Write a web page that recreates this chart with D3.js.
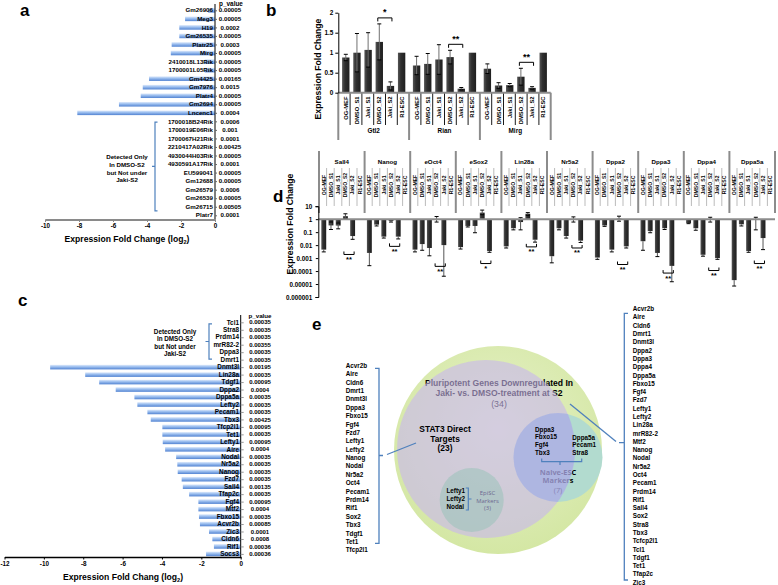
<!DOCTYPE html>
<html><head><meta charset="utf-8">
<script src="https://cdn.jsdelivr.net/npm/d3@7/dist/d3.min.js"></script>
<style>html,body{margin:0;padding:0;background:#fff;overflow:hidden}svg{display:block}</style>
</head><body>
<svg id="chart" width="778" height="585" viewBox="0 0 778 585"></svg>
<script>
// ================= DATA =================
// Panel a
const aGenes = ["Gm26906","Meg3","H19","Gm26535","Platr25","Mirg","2410018L13Rik","1700001L05Rik","Gm4425","Gm7976","Platr4","Gm2694","Lncenc1",
  "1700018B24Rik","1700019E06Rik","1700067H21Rik","2210417A02Rik","4930044H03Rik","4930591A17Rik","EU599041","Gm12688","Gm26579","Gm26539","Gm26715","Platr7"];
const aLog2FC = [-0.4,-1.76,-2.1,-2.1,-2.55,-2.6,-0.6,-0.6,-3.88,-4.25,-4.37,-5.65,-8.1,
  null,null,null,null,null,null,null,null,null,null,null,null];
const aPValues = ["0.00005","0.00005","0.0002","0.00005","0.0003","0.00005","0.00005","0.00005","0.00165","0.0015","0.00005","0.00005","0.0004",
  "0.0006","0.001","0.0001","0.00425","0.00005","0.0001","0.00005","0.00005","0.0006","0.00005","0.00505","0.0001"];
const aTicks = [-10,-8,-6,-4,-2,0];
const onlyNote = ["Detected Only","In DMSO-S2","but Not under","Jaki-S2"];

// Panel c
const cGenes = ["Tcl1","Stra8","Prdm14","mrR82-2","Dppa3","Dmrt1","Dnmt3l","Lin28a","Tdgf1","Dppa2","Dppa5a","Lefty2","Pecam1","Tbx3","Tfcp2l1","Tet1",
  "Lefty1","Aire","Nodal","Nr5a2","Nanog","Fzd7","Sall4","Tfap2c","Fgf4","Mtf2","Fbxo15","Acvr2b","Zic3","Cldn6","Rif1","Socs3"];
const cLog2FC = [null,null,null,null,null,null,-9.68,-7.9,-7.19,-6.35,-5.4,-5.25,-4.74,-4.57,-3.98,-3.98,
  -3.96,-3.84,-3.28,-3.22,-3.2,-3.0,-2.94,-2.62,-2.15,-2.15,-2.12,-2.07,-1.61,-1.44,-1.36,-1.76];
const cPValues = ["0.00035","0.00035","0.00035","0.00355","0.00035","0.00035","0.00195","0.00035","0.00095","0.0004","0.00035","0.00035","0.00035","0.00425","0.00095","0.00035",
  "0.00095","0.0004","0.00035","0.00035","0.00035","0.00035","0.00135","0.00035","0.00095","0.0004","0.00035","0.00085","0.0001","0.0008","0.00036","0.00036"];
const cTicks = [-12,-10,-8,-6,-4,-2,0];

// Panel b
const bGenes = ["Gtl2","Rian","Mirg"];
const conditions = ["OG-MEF","DMSO_S1","Jaki_S1","DMSO_S2","Jaki_S2","R1-ESC"];
const bMean = [[0.88,1.0,1.07,1.27,0.17,1.0],[0.68,0.72,0.83,0.89,0.1,1.0],[0.6,0.18,0.19,0.4,0.12,1.0]];
const bErr  = [[0.08,0.48,0.43,0.45,0.1,0],[0.23,0.26,0.37,0.17,0.03,0],[0.12,0.07,0.04,0.21,0.03,0]];
const bSig = ["*","**","**"];
const bTicks = [0,0.5,1,1.5,2];

// Panel d
const dGenes = ["Sall4","Nanog","eOct4","eSox2","Lin28a","Nr5a2","Dppa2","Dppa3","Dppa4","Dppa5a"];
const dMean = [
  [0.0045,0.33,0.32,1.7,0.05,1],
  [0.0025,0.38,0.045,0.75,0.045,1],
  [0.0045,0.012,0.006,1.0,0.01,1],
  [0.007,0.3,0.3,3.2,0.0035,1],
  [0.008,0.2,0.6,2.6,0.026,1],
  [0.0014,0.2,0.05,0.95,0.022,1],
  [0.0011,0.33,0.0045,1.1,0.008,1],
  [0.02,0.12,0.0025,0.2,0.00025,1],
  [0.5,0.2,0.0018,0.9,0.001,1],
  [0.00002,0.4,0.0035,0.9,0.035,1]];
const dErrLow = [
  [0.003,0.16,0.18,1.1,0.028,null],
  [0.00026,0.3,0.035,0.6,0.03,null],
  [0.003,0.004,0.0015,0.6,0.00004,null],
  [0.005,0.25,0.09,2.2,0.0028,null],
  [0.006,0.15,0.15,2.0,0.017,null],
  [0.00043,0.15,0.035,0.6,0.016,null],
  [0.0008,0.28,0.003,0.7,0.006,null],
  [0.004,0.09,0.0013,0.16,0.000015,null],
  [0.45,0.14,0.0014,0.6,0.0008,null],
  [0.000007,0.3,0.0028,0.15,0.0045,null]];
const dErrHigh = [
  [null,0.6,0.5,2.6,null,null],
  [null,null,null,0.9,null,null],
  [null,null,null,1.6,null,null],
  [null,null,null,5,null,null],
  [null,null,1.3,3.2,null,null],
  [null,null,null,1.5,null,null],
  [null,null,null,1.7,null,null],
  [null,null,null,null,null,null],
  [null,null,null,1.4,null,null],
  [null,null,null,1.4,null,null]];
const dSig = ["**","**","**","*","**","**","**","**","**","**"];
const dSigLevel = [0.0019,0.008,0.00023,0.00038,0.0073,0.006,0.00032,0.00007,0.00011,0.00038];
const dTicks = [10,1,0.1,0.01,0.001,0.0001,0.00001,0.000001];
const dTickLabels = ["10","1","0.1","0.01","0.001","0.0001","0.00001","0.000001"];

// Panel e
const eAllGenes = ["Acvr2b","Aire","Cldn6","Dmrt1","Dnmt3l","Dppa2","Dppa3","Dppa4","Dppa5a","Fbxo15","Fgf4","Fzd7","Lefty1","Lefty2","Lin28a","mrR82-2","Mtf2",
  "Nanog","Nodal","Nr5a2","Oct4","Pecam1","Prdm14","Rif1","Sall4","Sox2","Stra8","Tbx3","Tcfcp2l1","Tcl1","Tdgf1","Tet1","Tfap2c","Zic3"];
const eStat3Targets = ["Acvr2b","Aire","Cldn6","Dmrt1","Dnmt3l","Dppa3","Fbxo15","Fgf4","Fzd7","Lefty1","Lefty2","Nanog","Nodal","Nr5a2","Oct4","Pecam1",
  "Prdm14","Rif1","Sox2","Tbx3","Tdgf1","Tet1","Tfcp2l1"];
const eNaiveStat3 = ["Dppa3","Fbxo15","Fgf4","Tbx3"];
const eNaiveOther = ["Dppa5a","Pecam1","Stra8"];
const eEpiSC = ["Lefty1","Lefty2","Nodal"];

// ================= DRAW =================
const svg = d3.select("#chart");
const SANS = "'Liberation Sans', Arial, Helvetica, sans-serif";
const CAL = "'Open Sans', 'Noto Sans', sans-serif";
const BLUE = "#4f81bd";
const defs = svg.append("defs");
function grad(id, horiz, stops){
  const g = defs.append("linearGradient").attr("id",id).attr("x1",0).attr("y1",0).attr("x2",horiz?1:0).attr("y2",horiz?0:1);
  stops.forEach(s=>g.append("stop").attr("offset",s[0]).attr("stop-color",s[1]));
}
grad("blueBar", false, [["0%","#dfeafb"],["40%","#9fc1f0"],["100%","#5283d2"]]);
grad("darkBar", true, [["0%","#555"],["40%","#2f2f2f"],["100%","#1f1f1f"]]);

function T(parent,x,y,str,size,opt={}){
  const t = parent.append("text").attr("x",x).attr("y",y)
    .attr("font-family",opt.family||SANS).attr("font-weight",opt.weight||"bold")
    .attr("font-size",size).attr("fill",opt.fill||"#000").attr("text-anchor",opt.anchor||"start");
  if(opt.dy) t.attr("dy",opt.dy);
  if(opt.transform) t.attr("transform",opt.transform);
  if(opt.len) t.attr("textLength",opt.len).attr("lengthAdjust","spacingAndGlyphs");
  t.text(str);
  return t;
}
function styleAxis(g,size){
  g.selectAll("text").attr("font-family",SANS).attr("font-weight","bold").attr("font-size",size).attr("fill","#000");
}

// panel labels
[["a",20,16],["b",266,16],["c",18,306],["d",273,202],["e",312,330]].forEach(p=>T(svg,p[1],p[2],p[0],17));

// ---------- Panel a ----------
(function(){
  const g = svg.append("g");
  const x = d3.scaleLinear().domain([-10,0]).range([45,215]);
  const y = d3.scalePoint().domain(aGenes).range([10.3,215.3]);
  const rows = aGenes.map((n,i)=>({n,v:aLog2FC[i],p:aPValues[i]}));
  g.selectAll("rect").data(rows.filter(d=>d.v!=null)).join("rect")
    .attr("x",d=>x(d.v)).attr("y",d=>y(d.n)-2.3).attr("width",d=>x(0)-x(d.v)).attr("height",4.6)
    .attr("fill","url(#blueBar)");
  rows.forEach(d=>{
    T(g,213,y(d.n),d.n,6.2,{anchor:"end",dy:"0.35em"});
    T(g,230,y(d.n),d.p,6.2,{anchor:"middle",dy:"0.35em"});
  });
  T(g,231,6.3,"p_value",6.4,{anchor:"middle"});
  g.append("line").attr("x1",x(0)).attr("x2",x(0)).attr("y1",4).attr("y2",219.5).attr("stroke","#000").attr("stroke-width",1);
  const ya = g.append("g").attr("transform",`translate(${x(0)},0)`).call(d3.axisRight(y).tickSize(2).tickFormat(""));
  ya.select(".domain").remove(); ya.selectAll("line").attr("stroke","#666");
  const xa = g.append("g").attr("transform","translate(0,219.5)")
    .call(d3.axisBottom(x).tickValues(aTicks).tickSize(2.5).tickSizeOuter(0).tickPadding(2).tickFormat(d=>String(d)));
  xa.select(".domain").attr("stroke","#8a8a8a").attr("stroke-width",1.8);
  xa.selectAll(".tick line").attr("stroke","#8a8a8a");
  styleAxis(xa,6.3);
  const tt = T(g,127,242,"Expression Fold Change (log",8.6,{anchor:"middle"});
  tt.append("tspan").attr("font-size",5.5).attr("dy",2).text("2");
  tt.append("tspan").attr("dy",-2).text(")");
  const bx=155, y1=y(aGenes[13])+0.7, y2=y(aGenes[24])-4.5, ym=(y1+y2)/2;
  g.append("path").attr("d",`M${bx+2.5},${y1}H${bx}V${y2}H${bx+2.5}M${bx},${ym}H${bx-3}`)
    .attr("fill","none").attr("stroke",BLUE).attr("stroke-width",1.2);
  onlyNote.forEach((s,i)=>T(g,127,157.3+i*7.6,s,6.2,{anchor:"middle",dy:"0.35em"}));
})();

// ---------- Panel c ----------
(function(){
  const g = svg.append("g");
  const x = d3.scaleLinear().domain([-12,0]).range([4.5,240.7]);
  const y = d3.scalePoint().domain(cGenes).range([322.3,553.9]);
  const rows = cGenes.map((n,i)=>({n,v:cLog2FC[i],p:cPValues[i]}));
  g.selectAll("rect").data(rows.filter(d=>d.v!=null)).join("rect")
    .attr("x",d=>x(d.v)).attr("y",d=>y(d.n)-2.3).attr("width",d=>x(0)-x(d.v)).attr("height",4.6)
    .attr("fill","url(#blueBar)");
  rows.forEach(d=>{
    T(g,239,y(d.n),d.n,6.4,{anchor:"end",dy:"0.35em"});
    T(g,260,y(d.n),d.p,6.0,{anchor:"middle",dy:"0.35em"});
  });
  T(g,260,317.5,"p_value",6.2,{anchor:"middle"});
  g.append("line").attr("x1",x(0)).attr("x2",x(0)).attr("y1",315).attr("y2",557).attr("stroke","#000").attr("stroke-width",1);
  const ya = g.append("g").attr("transform",`translate(${x(0)},0)`).call(d3.axisRight(y).tickSize(3).tickFormat(""));
  ya.select(".domain").remove(); ya.selectAll("line").attr("stroke","#999");
  const xa = g.append("g").attr("transform","translate(0,557)")
    .call(d3.axisBottom(x).tickValues(cTicks).tickSize(2.5).tickSizeOuter(0).tickPadding(2).tickFormat(d=>String(d)));
  xa.select(".domain").attr("stroke","#000").attr("stroke-width",1.6);
  xa.selectAll(".tick line").attr("stroke","#000");
  styleAxis(xa,6.3);
  const tt = T(g,123,579.5,"Expression Fold Chang (log",8.6,{anchor:"middle"});
  tt.append("tspan").attr("font-size",5.5).attr("dy",2).text("2");
  tt.append("tspan").attr("dy",-2).text(")");
  const bx=209, y1=y(cGenes[0])+1.5, y2=y(cGenes[5])-0.5, ym=(y1+y2)/2;
  g.append("path").attr("d",`M${bx+3},${y1}H${bx}V${y2}H${bx+3}M${bx},${ym}H${bx-3.5}`)
    .attr("fill","none").attr("stroke",BLUE).attr("stroke-width",1.2);
  onlyNote.forEach((s,i)=>T(g,175,331.7+i*7.45,s,6.3,{anchor:"middle",dy:"0.35em"}));
})();

// ---------- Panel b ----------
(function(){
  const g = svg.append("g");
  const xG = d3.scaleBand().domain(bGenes).range([338.3,550.7]);
  const xC = d3.scaleBand().domain(conditions).range([0,xG.bandwidth()]).padding(0.34);
  const y = d3.scaleLinear().domain([0,2]).range([92.7,12.7]);
  const step = xG.bandwidth()/conditions.length;
  bGenes.forEach(gn=>{
    for(let j=1;j<conditions.length;j++){
      const sx = xG(gn)+j*step;
      g.append("line").attr("x1",sx).attr("x2",sx).attr("y1",92.7).attr("y2",125).attr("stroke","#000").attr("stroke-width",0.9);
    }
  });
  for(let k=0;k<=bGenes.length;k++){
    const sx = 338.3 + k*xG.bandwidth();
    g.append("line").attr("x1",sx).attr("x2",sx).attr("y1",92.7).attr("y2",140).attr("stroke","#8c8c8c").attr("stroke-width",2);
  }
  const data = [];
  bGenes.forEach((gn,i)=>conditions.forEach((c,j)=>data.push({gn,c,i,j,v:bMean[i][j],e:bErr[i][j]})));
  g.selectAll("rect.bar").data(data).join("rect").attr("class","bar")
    .attr("x",d=>xG(d.gn)+xC(d.c)).attr("width",xC.bandwidth())
    .attr("y",d=>y(d.v)).attr("height",d=>y(0)-y(d.v)).attr("fill","url(#darkBar)");
  data.filter(d=>d.e>0).forEach(d=>{
    const cx = xG(d.gn)+xC(d.c)+xC.bandwidth()/2;
    const hi = y(d.v+d.e), lo = y(Math.max(0,d.v-d.e));
    g.append("line").attr("x1",cx).attr("x2",cx).attr("y1",hi).attr("y2",lo).attr("stroke","#707070").attr("stroke-width",1);
    [hi,lo].forEach(yy=>g.append("line").attr("x1",cx-2).attr("x2",cx+2).attr("y1",yy).attr("y2",yy).attr("stroke","#000").attr("stroke-width",1));
  });
  g.append("line").attr("x1",338.3).attr("x2",550.7).attr("y1",92.7).attr("y2",92.7).attr("stroke","#8c8c8c").attr("stroke-width",2);
  const ya = g.append("g").attr("transform","translate(338.3,0)")
    .call(d3.axisLeft(y).tickValues(bTicks).tickSize(3).tickSizeOuter(0).tickPadding(2).tickFormat(d=>String(d)));
  ya.select(".domain").attr("stroke","#000");
  styleAxis(ya,6.4);
  data.forEach(d=>{
    const cx = xG(d.gn)+xC(d.c)+xC.bandwidth()/2;
    T(g,0,0,d.c,5.8,{anchor:"end",dy:"0.35em",transform:`translate(${cx},96.5) rotate(-90)`});
  });
  bGenes.forEach(gn=>T(g,xG(gn)+xG.bandwidth()/2,133,gn,6.4,{anchor:"middle"}));
  T(g,0,0,"Expression Fold Change",8.6,{anchor:"middle",dy:"0.35em",transform:"translate(318,69) rotate(-90)"});
  bGenes.forEach((gn,i)=>{
    const x1 = xG(gn)+xC("DMSO_S2")+xC.bandwidth()/2-1.5, x2 = xG(gn)+xC("Jaki_S2")+xC.bandwidth()/2+1.5;
    const top = y(bMean[i][3]+bErr[i][3])-6;
    g.append("path").attr("d",`M${x1},${top+3.5}V${top}H${x2}V${top+3.5}`).attr("fill","none").attr("stroke","#000").attr("stroke-width",1);
    T(g,(x1+x2)/2,top-2.5,bSig[i],9,{anchor:"middle"});
  });
})();

// ---------- Panel d ----------
(function(){
  const g = svg.append("g");
  const xG = d3.scaleBand().domain(dGenes).range([319,775]);
  const xC = d3.scaleBand().domain(conditions).range([0,xG.bandwidth()]).padding(0.32);
  const y = d3.scaleLog().domain([1e-6,10]).range([297,206.2]);
  const step = xG.bandwidth()/conditions.length;
  dGenes.forEach(gn=>{
    for(let j=1;j<conditions.length;j++){
      const sx = xG(gn)+j*step;
      g.append("line").attr("x1",sx).attr("x2",sx).attr("y1",168).attr("y2",206).attr("stroke","#aaa").attr("stroke-width",0.8);
    }
    T(g,xG(gn)+xG.bandwidth()/2,163.5,gn,6.2,{anchor:"middle"});
    conditions.forEach(c=>{
      const cx = xG(gn)+xC(c)+xC.bandwidth()/2;
      T(g,0,0,c,5.1,{anchor:"middle",dy:"0.35em",transform:`translate(${cx},185) rotate(-90)`});
    });
  });
  for(let k=0;k<=dGenes.length;k++){
    const sx = 319 + k*xG.bandwidth();
    g.append("line").attr("x1",sx).attr("x2",sx).attr("y1",151).attr("y2",213).attr("stroke","#8c8c8c").attr("stroke-width",2);
  }
  const data = [];
  dGenes.forEach((gn,i)=>conditions.forEach((c,j)=>data.push({gn,c,i,j,v:dMean[i][j],lo:dErrLow[i][j],hi:dErrHigh[i][j]})));
  g.selectAll("rect.bar").data(data.filter(d=>d.v!==1)).join("rect").attr("class","bar")
    .attr("x",d=>xG(d.gn)+xC(d.c)).attr("width",xC.bandwidth())
    .attr("y",d=>Math.min(y(d.v),y(1))).attr("height",d=>Math.abs(y(d.v)-y(1))).attr("fill","url(#darkBar)");
  data.filter(d=>d.lo!=null).forEach(d=>{
    const cx = xG(d.gn)+xC(d.c)+xC.bandwidth()/2;
    const top = y(d.hi!=null?d.hi:d.v), bot = y(d.lo);
    g.append("line").attr("x1",cx).attr("x2",cx).attr("y1",top).attr("y2",bot).attr("stroke","#555").attr("stroke-width",1);
    g.append("line").attr("x1",cx-2).attr("x2",cx+2).attr("y1",bot).attr("y2",bot).attr("stroke","#000").attr("stroke-width",1);
    if(d.hi!=null) g.append("line").attr("x1",cx-2).attr("x2",cx+2).attr("y1",top).attr("y2",top).attr("stroke","#000").attr("stroke-width",1);
  });
  g.append("line").attr("x1",318.3).attr("x2",775).attr("y1",y(1)).attr("y2",y(1)).attr("stroke","#8c8c8c").attr("stroke-width",2);
  const ya = g.append("g").attr("transform","translate(318.3,0)")
    .call(d3.axisLeft(y).tickValues(dTicks).tickSize(2.5).tickSizeOuter(3).tickPadding(3.5).tickFormat((d,i)=>dTickLabels[i]));
  ya.select(".domain").attr("stroke","#000");
  styleAxis(ya,6.3);
  T(g,0,0,"Expression Fold Change",8.6,{anchor:"middle",dy:"0.35em",transform:"translate(290,224) rotate(-90)"});
  dGenes.forEach((gn,i)=>{
    const x1 = xG(gn)+xC("DMSO_S2")+xC.bandwidth()/2-1.5, x2 = xG(gn)+xC("Jaki_S2")+xC.bandwidth()/2+1.5;
    const yy = y(dSigLevel[i]);
    g.append("path").attr("d",`M${x1},${yy-3}V${yy}H${x2}V${yy-3}`).attr("fill","none").attr("stroke","#000").attr("stroke-width",1);
    T(g,(x1+x2)/2,yy+7.5,dSig[i],7.5,{anchor:"middle"});
  });
})();

// ---------- Panel e ----------
(function(){
  const g = svg.append("g");
  const outer = {cx:498,cy:450,r:104}, grayC = {cx:486,cy:449,r:89}, naive = {cx:558,cy:457.5,r:44.5}, epi = {cx:471.7,cy:500,r:32};
  const rg = defs.append("radialGradient").attr("id","greenG").attr("cx","50%").attr("cy","40%").attr("r","60%");
  rg.append("stop").attr("offset","0%").attr("stop-color","#e6f1c8");
  rg.append("stop").attr("offset","100%").attr("stop-color","#d4e7a4");
  defs.append("clipPath").attr("id","grayClip").append("circle").attr("cx",grayC.cx).attr("cy",grayC.cy).attr("r",grayC.r);
  const circ = (c,fill,op)=>g.append("circle").attr("cx",c.cx).attr("cy",c.cy).attr("r",c.r).attr("fill",fill).attr("fill-opacity",op==null?1:op);
  circ(outer,"url(#greenG)");
  circ(naive,"#b2dbcf");
  T(g,499,385.5,"Pluripotent Genes Downregulated In",8.8,{anchor:"middle",len:148});
  T(g,499,396.3,"Jaki- vs. DMSO-treatment at S2",8.8,{anchor:"middle",len:127});
  T(g,499,407,"("+eAllGenes.length+")",8.8,{anchor:"middle",weight:"normal"});
  const nTotal = eNaiveStat3.length+eNaiveOther.length;
  T(g,558,474.5,"Naive-ESC",7.4,{anchor:"middle",family:CAL});
  T(g,558,483,"Markers",7.4,{anchor:"middle",family:CAL});
  T(g,558,492.5,"("+nTotal+")",7.4,{anchor:"middle",family:CAL,weight:"normal"});
  circ(grayC,"rgb(200,182,238)",0.6);
  g.append("circle").attr("cx",naive.cx).attr("cy",naive.cy).attr("r",naive.r).attr("clip-path","url(#grayClip)")
    .attr("fill","#97a1e0").attr("fill-opacity",0.4);
  circ(epi,"#9fc3bd",0.62);
  T(g,445,432,"STAT3 Direct",8.4,{anchor:"middle"});
  T(g,445,441.5,"Targets",8.4,{anchor:"middle"});
  T(g,445,451,"("+eStat3Targets.length+")",8.4,{anchor:"middle"});
  eStat3Targets.forEach((s,i)=>T(g,345.7,365.7+i*8.38,s,6.3,{dy:"0.35em"}));
  eAllGenes.forEach((s,i)=>T(g,632.7,309+i*8.29,s,6.3,{dy:"0.35em"}));
  eNaiveStat3.forEach((s,i)=>T(g,535,429.3+i*7.9,s,6.3,{dy:"0.35em"}));
  eNaiveOther.forEach((s,i)=>T(g,572.3,437.3+i*7.9,s,6.3,{dy:"0.35em"}));
  eEpiSC.forEach((s,i)=>T(g,446.5,490.7+i*8.1,s,6.3,{dy:"0.35em"}));
  T(g,487.5,495.3,"EpiSC",5.9,{anchor:"middle",family:CAL,weight:"normal",fill:"#6d6890"});
  T(g,487.5,502.5,"Markers",5.9,{anchor:"middle",family:CAL,weight:"normal",fill:"#6d6890"});
  T(g,487.5,509.7,"("+eEpiSC.length+")",5.9,{anchor:"middle",family:CAL,weight:"normal",fill:"#6d6890"});
  const P = (d,w)=>g.append("path").attr("d",d).attr("fill","none").attr("stroke",BLUE).attr("stroke-width",w||1.3);
  P("M375,368.3H379V543.3H375M379,455.5H383");
  P("M387,454.5L416,443");
  P("M628,313.3H624.3V580H628M624.3,442.7H619");
  P("M570,404L616,441.5");
  P("M541.7,458.5V461.7H581.7V458.5M560,461.7V465",1.2);
  P("M465.8,488H468.3V510H465.8M468.3,499H471.5",1.2);
})();
</script></body></html>
